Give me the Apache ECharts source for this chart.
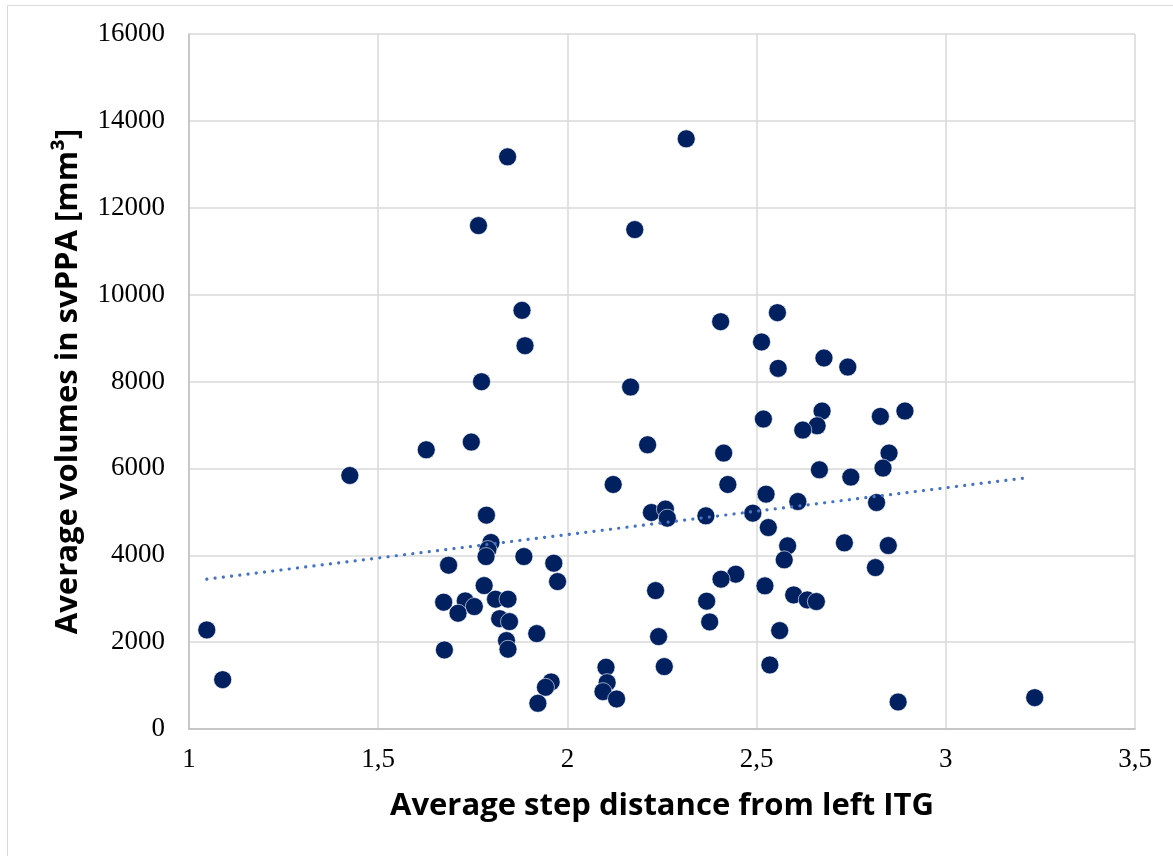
<!DOCTYPE html>
<html>
<head>
<meta charset="utf-8">
<script src="https://cdn.jsdelivr.net/npm/echarts@6/dist/echarts.min.js"></script>
<style>
html,body{margin:0;padding:0;background:#fff;}
#chart{width:1173px;height:856px;}
</style>
</head>
<body>
<div id="chart"></div>
<script>
// Scatter data: x = average step distance from left ITG, y = average volume (mm³)
const stepDistance = [
  1.842, 1.765, 1.880, 1.888, 1.773, 1.746, 1.627, 1.425, 1.786, 1.798,
  1.790, 1.785, 1.686, 1.885, 1.964, 1.974, 1.780, 1.673, 1.730, 1.754,
  1.711, 1.810, 1.843, 1.821, 1.847, 1.919, 1.839, 1.843, 1.675, 1.047,
  1.089, 1.957, 1.942, 1.922, 2.314, 2.178, 2.405, 2.555, 2.513, 2.557,
  2.678, 2.741, 2.167, 2.518, 2.673, 2.660, 2.622, 2.827, 2.892, 2.212,
  2.413, 2.850, 2.666, 2.749, 2.834, 2.121, 2.424, 2.525, 2.609, 2.817,
  2.222, 2.259, 2.264, 2.366, 2.490, 2.531, 2.582, 2.573, 2.732, 2.848,
  2.814, 2.445, 2.406, 2.233, 2.522, 2.598, 2.634, 2.658, 2.368, 2.376,
  2.561, 2.241, 2.102, 2.256, 2.535, 2.105, 2.094, 2.130, 2.874, 3.235
];
const volume = [
  13172, 11589, 9638, 8824, 7995, 6606, 6428, 5836, 4923, 4293,
  4130, 3970, 3771, 3970, 3817, 3394, 3302, 2919, 2949, 2818,
  2665, 2988, 2988, 2541, 2472, 2196, 2035, 1836, 1820, 2281,
  1136, 1083, 960, 592, 13587, 11497, 9377, 9585, 8910, 8302,
  8541, 8333, 7873, 7136, 7320, 6981, 6882, 7196, 7320, 6543,
  6352, 6352, 5967, 5799, 6006, 5629, 5629, 5407, 5237, 5214,
  4984, 5062, 4854, 4907, 4969, 4638, 4216, 3894, 4285, 4223,
  3716, 3564, 3449, 3186, 3295, 3087, 2972, 2934, 2942, 2465,
  2265, 2127, 1421, 1436, 1475, 1067, 860, 691, 622, 722
];
// Linear trendline endpoints
const trendX = [1.047, 3.22];
const trendY = [3449, 5790];

const xTicks = { min: 1, max: 3.5, interval: 0.5 };
const yTicks = { min: 0, max: 16000, interval: 2000 };

const points = stepDistance.map((x, i) => [x, volume[i]]);
const trend = trendX.map((x, i) => [x, trendY[i]]);

const chart = echarts.init(document.getElementById('chart'), null, { renderer: 'canvas' });
chart.setOption({
  animation: false,
  backgroundColor: '#ffffff',
  graphic: [{
    type: 'rect',
    shape: { x: 7.5, y: 5.5, width: 1300, height: 1000 },
    style: { fill: 'none', stroke: '#d9d9d9', lineWidth: 1 },
    silent: true, z: -10
  }],
  grid: { left: 189, top: 34, right: 38, bottom: 127 },
  xAxis: {
    type: 'value',
    min: xTicks.min, max: xTicks.max, interval: xTicks.interval,
    name: 'Average step distance from left ITG',
    nameLocation: 'middle',
    nameGap: 62,
    nameTextStyle: { fontFamily: 'Open Sans', fontWeight: 700, fontSize: 31, color: '#000' },
    axisLine: { show: true, lineStyle: { color: '#bfbfbf', width: 1.5 } },
    axisTick: { show: false },
    splitLine: { show: true, lineStyle: { color: '#d9d9d9', width: 1.5 } },
    axisLabel: {
      fontFamily: 'Liberation Serif', fontSize: 27, color: '#000', margin: 17,
      formatter: v => String(v).replace('.', ',')
    }
  },
  yAxis: {
    type: 'value',
    min: yTicks.min, max: yTicks.max, interval: yTicks.interval,
    name: 'Average volumes in svPPA [mm³]',
    nameLocation: 'middle',
    nameGap: 105,
    nameTextStyle: { fontFamily: 'Open Sans', fontWeight: 700, fontSize: 31, color: '#000' },
    axisLine: { show: true, lineStyle: { color: '#bfbfbf', width: 1.5 } },
    axisTick: { show: false },
    splitLine: { show: true, lineStyle: { color: '#d9d9d9', width: 1.5 } },
    axisLabel: {
      fontFamily: 'Liberation Serif', fontSize: 27, color: '#000', margin: 24,
      formatter: v => String(v)
    }
  },
  series: [
    {
      type: 'scatter',
      data: points,
      symbol: 'circle',
      symbolSize: 18,
      itemStyle: { color: '#002060', borderColor: '#ffffff', borderWidth: 0.6, opacity: 1 },
      z: 2
    },
    {
      type: 'line',
      data: trend,
      showSymbol: false,
      symbol: 'none',
      lineStyle: { color: '#4472c4', width: 3.2, type: [0.1, 8.2], cap: 'round' },
      z: 3
    }
  ]
});
</script>
</body>
</html>
